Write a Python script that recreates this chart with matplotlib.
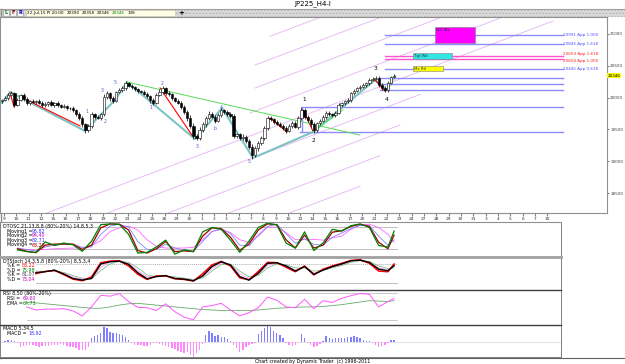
import numpy as np
import matplotlib.pyplot as plt
from matplotlib.patches import Rectangle

W, H = 625, 364
PX = 3.0875  # pixels per H4 bar, 4 bars a day

# ---- JP225 H4 bars, 9 Jun - 22 Jul 2015 ----
first_open = 19940
closes = [
    19960, 19990, 20040, 20070, 19890, 19960, 20040, 19980, 19910, 19950, 19930, 19950, 19920, 19880, 19900, 19930,
    19890, 19910, 19880, 19860, 19870, 19830, 19840, 19800, 19750, 19680, 19580, 19490, 19550, 19740, 19690, 19680,
    19740, 20010, 20070, 19990, 19950, 20090, 20120, 20150, 20230, 20190, 20160, 20130, 20110, 20090, 20060, 20020,
    19960, 19920, 20040, 20090, 20150, 20070, 20050, 19990, 19950, 19920, 19850, 19770, 19680, 19560, 19400, 19370,
    19490, 19580, 19680, 19750, 19700, 19640, 19720, 19800, 19780, 19740, 19710, 19400, 19420, 19370, 19380, 19320,
    19230, 19090, 19200, 19290, 19360, 19520, 19680, 19660, 19620, 19590, 19560, 19520, 19480, 19560, 19600, 19540,
    19680, 19800, 19700, 19650, 19580, 19490, 19600, 19640, 19700, 19760, 19740, 19720, 19760, 19880, 19910, 19940,
    19960, 20070, 20110, 20150, 20170, 20200, 20230, 20280, 20300, 20310, 20200, 20150, 20120, 20230, 20320, 20346]
wick_up = [
    20, 30, 25, 40, 15, 30, 20, 35, 25, 20, 30, 15, 25, 20, 30, 20,
    25, 15, 30, 20, 25, 20, 15, 30, 20, 25, 35, 20, 40, 30, 25, 30,
    20, 45, 30, 25, 35, 20, 30, 35, 25, 20, 30, 25, 20, 15, 30, 25,
    20, 35, 30, 40, 25, 20, 30, 25, 20, 30, 25, 35, 30, 40, 35, 30,
    45, 30, 25, 35, 30, 25, 40, 30, 25, 20, 30, 35, 30, 25, 40, 35,
    30, 45, 35, 30, 40, 35, 25, 30, 20, 25, 30, 25, 35, 30, 25, 40,
    30, 45, 30, 25, 35, 30, 20, 25, 30, 25, 30, 20, 25, 30, 20, 25,
    30, 20, 25, 20, 30, 25, 20, 35, 30, 25, 30, 35, 25, 30, 25, 20]
wick_dn = [
    25, 20, 30, 20, 35, 25, 20, 30, 20, 25, 15, 30, 20, 25, 20, 30,
    20, 30, 25, 20, 30, 25, 30, 20, 35, 30, 40, 45, 30, 25, 30, 20,
    35, 30, 25, 40, 30, 25, 20, 30, 25, 30, 20, 25, 30, 25, 20, 30,
    40, 30, 25, 20, 30, 25, 20, 30, 25, 20, 35, 30, 40, 35, 45, 40,
    30, 25, 35, 30, 25, 35, 30, 25, 30, 25, 35, 40, 30, 35, 30, 40,
    35, 50, 30, 35, 30, 25, 30, 25, 30, 20, 25, 35, 30, 25, 30, 25,
    30, 25, 35, 30, 35, 40, 30, 25, 20, 30, 25, 30, 25, 20, 30, 25,
    20, 25, 30, 20, 25, 20, 30, 25, 20, 30, 35, 30, 35, 25, 20, 15]

day_labels = ["9", "10", "11", "12", "15", "16", "17", "18", "19", "22", "23", "24", "25", "26", "29", "30",
              "1", "2", "3", "6", "7", "8", "9", "10", "13", "14", "15", "16", "17", "20", "21", "22",
              "23", "24", "27", "28", "29", "30", "31", "3", "4", "5", "6", "7", "10"]
price_ticks = [18500, 19000, 19500, 20000, 20500, 21000]
last_price = 20346

# projection levels
lvl_price = [20991, 20845, 20653, 20604, 20445, 20313, 20214, 20120, 19845, 19452]
lvl_from = [124, 124, 124, 124, 124, 122.4, 122.4, 122.4, 97.2, 96.5]
lvl_text = ["20991 App 1.000", "20845 App 1.618", "20653 App 1.618", "20604 App 1.000", "20445 App 0.618",
            "", "", "", "", ""]
lvl_end = 181.7

# target zones
zone_b0 = [140.2, 133.1, 133.1]
zone_b1 = [153.2, 145.7, 142.8]
zone_lo = [20859, 20607, 20418]
zone_hi = [21110, 20697, 20497]
zone_text = ["W3 Wk", "Tgt Wk", "Mx Rtl"]

# parallel time/price lines
chan_base = [19366, 19004, 18643, 18281, 17920, 17558, 17197, 16835, 16473]
chan_from = [86.8, 81.9, 81.9, 80.3, 14.6, 34.3, 53.8, 73.5, 93.0]
chan_to = [103.0, 122.8, 142.2, 161.9, 178.5, 135.4, 128.9, 122.4, 116.0]
chan_slope = 18.4

# swing lines
teal_b = [0, 2.6, 26.9, 36.6, 40.5, 62.5, 71.3, 81.3, 100.7, 120.8, 124.7, 127.3]
teal_p = [19915, 20088, 19475, 19962, 20245, 19349, 19837, 19051, 19459, 20277, 20120, 20340]
red_b0 = [2.6, 8.1, 51.2, 86.8, 97.5, 120.8]
red_p0 = [20073, 19962, 20151, 19679, 19805, 20277]
red_b1 = [3.9, 25.3, 61.5, 92.3, 100.7, 124.0]
red_p1 = [19852, 19554, 19412, 19459, 19475, 20104]
green_b0 = [40.5, 100.7]
green_p0 = [20245, 19459]
green_b1 = [115.9, 110.4]
green_p1 = [19412, 19805]

# wave counts
wave_s = ["1", "2", "3", "4", "5", "1", "2", "3", "b", "4", "5"]
wave_b = [27.5, 33.4, 32.4, 36.6, 36.6, 48.3, 51.8, 63.2, 69.0, 70.9, 80.0]
wave_p = [19774, 19632, 20104, 19947, 20245, 19837, 20214, 19224, 19522, 19837, 18988]
big_s = ["1", "2", "3", "4"]
big_b = [97.8, 101.0, 120.8, 124.7]
big_p = [19978, 19318, 20450, 19978]

# ---- indicators, read every 3 bars ----
dtosc_x = list(range(5, 126, 3)) + [127]
dtosc_1 = [17, 12, 10, 39, 29, 36, 31, 13, 41, 87, 89, 88, 60, 8, 10, 25, 44, 5, 17, 12,
           67, 79, 74, 44, 10, 41, 79, 91, 86, 36, 22, 67, 15, 36, 74, 69, 84, 89, 79, 29, 25, 69]
dtosc_2 = [20, 13, 9, 30, 33, 33, 33, 18, 30, 78, 89, 88, 72, 15, 8, 20, 40, 12, 14, 12,
           55, 78, 76, 52, 16, 33, 72, 89, 87, 45, 22, 58, 22, 30, 66, 70, 82, 88, 82, 38, 20, 58]
dtosc_3 = [22, 18, 14, 25, 30, 32, 32, 24, 25, 60, 83, 88, 80, 40, 18, 18, 32, 22, 16, 14,
           40, 68, 76, 62, 30, 28, 58, 82, 88, 62, 35, 48, 32, 30, 52, 64, 76, 85, 84, 55, 30, 45]
dtosc_4 = [17, 17, 17, 18, 20, 21, 22, 22, 30, 42, 68, 78, 83, 72, 45, 27, 22, 22, 22, 24,
           45, 68, 73, 65, 45, 38, 55, 80, 80, 65, 45, 46, 46, 44, 50, 55, 74, 86, 88, 79, 60, 38]

stoch_x = list(range(11, 126, 3)) + [127]
stoch_k1 = [50, 57, 60, 47, 33, 28, 40, 84, 89, 90, 74, 48, 32, 43, 43, 34, 32, 27, 50, 77,
            88, 74, 37, 31, 57, 85, 84, 70, 56, 74, 46, 64, 74, 82, 91, 93, 82, 58, 56, 80]
stoch_d1 = [53, 56, 61, 49, 35, 30, 35, 80, 87, 89, 79, 53, 34, 41, 44, 35, 33, 28, 43, 72,
            87, 77, 41, 30, 51, 82, 84, 74, 58, 72, 48, 61, 72, 80, 90, 92, 85, 64, 59, 75]
stoch_k2 = [55, 56, 59, 52, 40, 33, 35, 70, 85, 89, 82, 60, 40, 41, 43, 37, 34, 30, 40, 65,
            83, 78, 50, 35, 48, 75, 82, 76, 62, 70, 52, 60, 70, 78, 88, 92, 86, 68, 62, 72]
stoch_d2 = [58, 57, 58, 54, 44, 36, 34, 60, 80, 88, 85, 68, 46, 40, 42, 40, 36, 32, 36, 58,
            78, 80, 58, 40, 44, 68, 80, 78, 68, 68, 58, 60, 68, 75, 85, 90, 88, 74, 66, 68]

rsi_x = list(range(8, 126, 3)) + [127]
rsi = [50, 43, 45, 45, 46, 41, 30, 50, 76, 74, 80, 62, 49, 48, 42, 57, 39, 27, 21, 50,
       53, 58, 43, 30, 37, 48, 72, 65, 50, 48, 67, 46, 64, 60, 69, 75, 80, 78, 50, 62, 69]
rsi_ema = [60, 59, 57, 55, 53, 51, 49, 47, 47, 50, 54, 57, 58, 56, 54, 52, 50, 48, 46, 44,
           43, 42, 42, 42, 42, 43, 45, 47, 48, 49, 50, 50, 51, 53, 55, 58, 61, 64, 63, 62, 64]

macd_hist = [0, 10, 17, 17, 5, -17, -50, -40, -33, -30, -33, -40, -50, -45, -43, -40,
             -33, -33, -30, -27, -35, -43, -50, -57, -67, -83, -83, -80, -50, 33, 57, 67,
             90, 150, 140, 100, 90, 83, 77, 67, 50, 17, -10, -33, -35, -33, -40, -43,
             -30, -17, -17, -20, -30, -45, -50, -60, -75, -95, -100, -117, -105, -135, -150, -115,
             -80, -20, 67, 110, 83, 57, 67, 50, 43, 30, 10, -33, -67, -100, -83, -50,
             -33, -25, -10, 77, 110, 135, 157, 143, 110, 90, 67, 33, -17, -33, -43, -33,
             -17, 80, 33, -10, -33, -50, -40, -20, 10, 57, 40, 30, 37, 33, 37, 40,
             43, 50, 57, 50, 33, 17, 5, 3, -10, -33, -50, -43, -33, -10, 15, 19]

fig = plt.figure(figsize=(W / 100, H / 100), dpi=100)


def rect(x0, y0, x1, y1):
    return [x0 / W, 1 - y1 / H, (x1 - x0) / W, (y1 - y0) / H]


def bx(xpix):
    return (xpix - 2) / PX


def ftext(x, y, s, **kw):
    kw.setdefault('fontsize', 3.4)
    kw.setdefault('va', 'center')
    fig.text(x / W, 1 - y / H, s, **kw)


# background: title bar, toolbar, footer
bg = fig.add_axes([0, 0, 1, 1], zorder=-5)
bg.set_xlim(0, W)
bg.set_ylim(H, 0)
bg.axis('off')
bg.add_patch(Rectangle((0, 9), W, 8, fc='#dcdcdc', ec='#b8b8b8', hatch='.....', lw=0))
bg.plot([0, W], [8.5, 8.5], color='#a0a0a0', lw=0.8)
bg.plot([0.5, 0.5], [9, 358], color='#909090', lw=1)
bg.plot([0, W], [357.5, 357.5], color='#606060', lw=0.8)
bg.add_patch(Rectangle((26, 10), 149, 6, fc='#ffffe8', ec='#c8c8a0', lw=0.4))
for x0, ch, col in [(3, 'L', '#008000'), (10, 'F', '#800000'), (17, 'R', '#0000c0')]:
    bg.add_patch(Rectangle((x0, 10), 6, 6, fc='#f4f4f4', ec='#909090', lw=0.4))
    ftext(x0 + 3, 13, ch, ha='center', color=col, fontsize=3.6, fontweight='bold')
ftext(313, 4, "JP225_H4-I", ha='center', fontsize=5)
ftext(27, 13, "22-Jul-15 Pl 20:00", fontsize=3)
for x0, s, col in [(67, "20390", 'black'), (82, "20358", 'black'), (97, "20346", 'black'),
                   (112, "20346", '#008000'), (128, "138", 'black')]:
    ftext(x0, 13, s, fontsize=3, color=col)
ftext(181, 13, "+", fontsize=5, fontweight='bold', ha='center')
ftext(313, 361, "Chart created by Dynamic Trader  (c) 1996-2011", ha='center', fontsize=3.4)

# ---- main price panel ----
ax = fig.add_axes(rect(0, 17, 607, 213))
ax.set_xlim(bx(0), bx(607))
ax.set_ylim(18186, 21267)
for s in ax.spines.values():
    s.set_color('#909090')
    s.set_linewidth(0.8)

for p0, b0, b1 in zip(chan_base, chan_from, chan_to):
    ax.plot([b0, b1], [p0 + chan_slope * b0, p0 + chan_slope * b1], color='#e4b4f2', lw=0.6, zorder=1)

for p, b0, t in zip(lvl_price, lvl_from, lvl_text):
    pink = t in ("20653 App 1.618", "20604 App 1.000")
    col = '#ff55cc' if pink else '#8c8cff'
    ax.plot([b0, lvl_end], [p, p], color=col, lw=1.0, zorder=2)
    if t:
        va = 'center'
        if t.startswith("20653"):
            va = 'bottom'
        elif t.startswith("20604"):
            va = 'top'
        ax.text(bx(563), p, t, fontsize=3.0, va=va, color='#ff2020' if pink else '#5050ff')
ax.plot([97.2, 97.2], [19452, 19845], color='#8c8cff', lw=1.0, zorder=2)

for b0, b1, lo, hi, t, fc in zip(zone_b0, zone_b1, zone_lo, zone_hi, zone_text,
                                  ['#ff00ff', '#33e6e6', '#ffff00']):
    ax.add_patch(Rectangle((b0, lo), b1 - b0, hi - lo, fc=fc, ec='#808080', lw=0.4, zorder=3))
    ax.text(b0 + 0.4, hi - 12, t, fontsize=2.8, va='top', color='#303030', zorder=4)

ax.plot(teal_b, teal_p, color='#7cc4c4', lw=1.5, zorder=3)
for b0, p0, b1, p1 in zip(red_b0, red_p0, red_b1, red_p1):
    ax.plot([b0, b1], [p0, p1], color='#ff0000', lw=0.8, zorder=3)
for b0, p0, b1, p1 in zip(green_b0, green_p0, green_b1, green_p1):
    ax.plot([b0, b1], [p0, p1], color='#55dd55', lw=0.7, zorder=3)

c = np.array(closes, float)
o = np.r_[first_open, c[:-1]]
hi = np.maximum(o, c) + np.array(wick_up)
lo = np.minimum(o, c) - np.array(wick_dn)
idx = np.arange(len(c))
up = c >= o
ax.vlines(idx, lo, hi, color='black', lw=0.5, zorder=4)
ax.bar(idx[up], (c - o)[up], bottom=o[up], width=0.75, color='white', edgecolor='black', lw=0.4, zorder=5)
ax.bar(idx[~up], (o - c)[~up], bottom=c[~up], width=0.75, color='black', edgecolor='black', lw=0.4, zorder=5)

for s, b, p in zip(wave_s, wave_b, wave_p):
    ax.text(b, p, s, fontsize=3.4, color='#5a5ad0', ha='center', va='center', zorder=6)
for s, b, p in zip(big_s, big_b, big_p):
    ax.text(b, p, s, fontsize=4.2, color='black', ha='center', va='center', zorder=6)

ax.yaxis.tick_right()
ax.set_yticks(price_ticks)
ax.set_yticklabels([str(v) for v in price_ticks])
ax.tick_params(axis='y', labelsize=3.0, length=1.5, pad=0.8, color='#808080', labelcolor='#404040')
ax.text(bx(607.8), last_price, str(last_price), fontsize=3.0, va='center', clip_on=False,
        bbox=dict(fc='#ffff00', ec='none', pad=0.4))
ax.set_xticks(np.arange(len(day_labels)) * 4 + 0.65)
ax.set_xticklabels(day_labels)
ax.tick_params(axis='x', labelsize=3.2, length=2, pad=1, color='#808080', labelcolor='#303030')


# ---- indicator panels ----
def panel(y0, y1, lo_v, hi_v, top_col, top_lw):
    a = fig.add_axes(rect(0, y0, 561, y1))
    a.set_xlim(bx(0), bx(561))
    a.set_ylim(lo_v, hi_v)
    a.set_xticks([])
    a.set_yticks([])
    for s in a.spines.values():
        s.set_color('#808080')
        s.set_linewidth(0.7)
    a.spines['top'].set_color(top_col)
    a.spines['top'].set_linewidth(top_lw)
    return a


p1 = panel(222, 257, -2.9, 94.3, '#909090', 0.8)
p1.plot([5, 128], [80, 80], color='#c0c0c0', lw=0.7)
p1.plot([5, 128], [20, 20], color='#c0c0c0', lw=0.7)
p1.plot(dtosc_x, dtosc_4, color='#ff66ff', lw=0.6)
p1.plot(dtosc_x, dtosc_3, color='#8080ff', lw=0.6)
p1.plot(dtosc_x, dtosc_2, color='#a00000', lw=0.9)
p1.plot(dtosc_x, dtosc_1, color='#008000', lw=0.9)
ftext(3, 226.5, "DTOSC 21,13,8,8 (80%-20%) 14,8,5,3")
for i, (v, col) in enumerate([("95,82", '#3030ff'), ("94,40", '#c000c0'), ("82,71", '#3030ff'), ("68,29", '#c00000')]):
    ftext(7, 231 + 4.6 * i, "Moving%d =" % (i + 1))
    ftext(32, 231 + 4.6 * i, v, color=col)

p2 = panel(257, 290, -0.7, 101.7, '#a0a0a0', 2.0)
p2.plot([11, 128], [80, 80], color='#b0b0b0', lw=0.7, ls=(0, (1, 1)))
p2.plot([11, 128], [20, 20], color='#c0c0c0', lw=0.7)
p2.plot(stoch_x, stoch_d2, color='#66bb66', lw=0.5)
p2.plot(stoch_x, stoch_k2, color='#ff88ff', lw=0.5)
p2.plot(stoch_x, stoch_k1, color='#ff0000', lw=1.1)
p2.plot(stoch_x, stoch_d1, color='black', lw=1.0)
ftext(3, 261.5, "DTStoch 14,3,5,8 (80%-20%) 8,5,3,4")
for i, (lab, v, col) in enumerate([("%K =", "83,22", '#ff0000'), ("%D =", "75,98", '#008000'),
                                   ("%K =", "81,07", '#505050'), ("%D =", "73,04", '#c000c0')]):
    ftext(7, 265.5 + 4.6 * i, lab)
    ftext(22, 265.5 + 4.6 * i, v, color=col)

p3 = panel(290, 325, 9.5, 87.8, '#404040', 1.0)
p3.plot([8, 128], [80, 80], color='#c8c8c8', lw=0.7)
p3.plot([8, 128], [20, 20], color='#c8c8c8', lw=0.7)
p3.plot(rsi_x, rsi_ema, color='#66aa66', lw=0.6)
p3.plot(rsi_x, rsi, color='#ff55ff', lw=0.7)
ftext(3, 293.5, "RSI 8,50 (80%-20%)")
ftext(7, 298.5, "RSI =")
ftext(23, 298.5, "69,60", color='#c000c0')
ftext(7, 303.5, "EMA =")
ftext(23, 303.5, "64,73", color='#008000')

p4 = panel(325, 357, -153, 167, '#404040', 1.0)
mh = np.array(macd_hist, float)
mi = np.arange(len(mh))
p4.bar(mi[mh >= 0], mh[mh >= 0], width=0.45, color='#8080ff')
p4.bar(mi[mh < 0], mh[mh < 0], width=0.45, color='#ff88ff')
p4.axhline(0, color='#d8d8d8', lw=0.5, zorder=0)
ftext(3, 328.5, "MACD 5,34,5")
ftext(7, 333.5, "MACD =")
ftext(28, 333.5, "18,92", color='#3030ff')

fig.savefig('out.png', dpi=100)
